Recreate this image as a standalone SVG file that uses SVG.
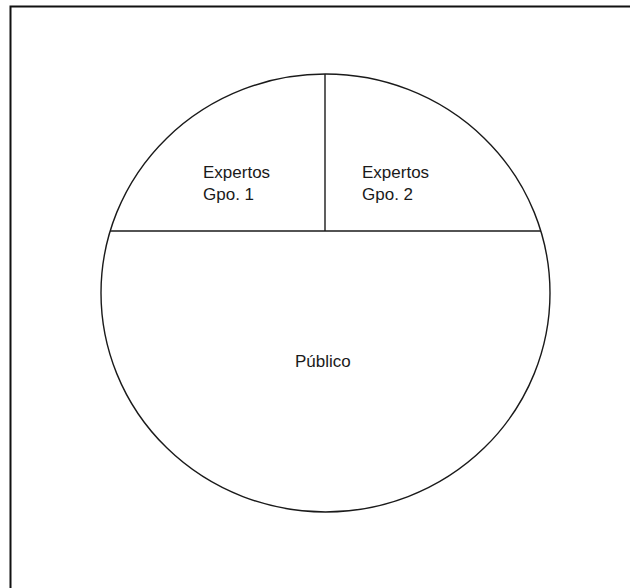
<svg xmlns="http://www.w3.org/2000/svg" width="630" height="588" viewBox="0 0 630 588">
<style>
.ln{fill:none;stroke:#1a1a1a;stroke-width:1.4}
.t{font-family:"Liberation Sans",Arial,sans-serif;font-size:17px;fill:#1a1a1a}
</style>
<rect width="630" height="588" fill="#fff"/>
<path d="M10.5,588 V6.5 H630" fill="none" stroke="#111" stroke-width="2"/>
<g id="circle">
<ellipse class="ln" cx="325.5" cy="293" rx="224.5" ry="219"/>
</g>
<g id="connectors">
<line class="ln" x1="110" y1="231" x2="541" y2="231"/>
<line class="ln" x1="325" y1="74" x2="325" y2="231"/>
</g>
<g id="expertos1"><text class="t" x="203" y="178">Expertos</text><text class="t" x="203" y="200">Gpo. 1</text></g>
<g id="expertos2"><text class="t" x="362" y="178">Expertos</text><text class="t" x="362" y="200">Gpo. 2</text></g>
<g id="publico"><text class="t" x="295" y="367">Público</text></g>
</svg>
